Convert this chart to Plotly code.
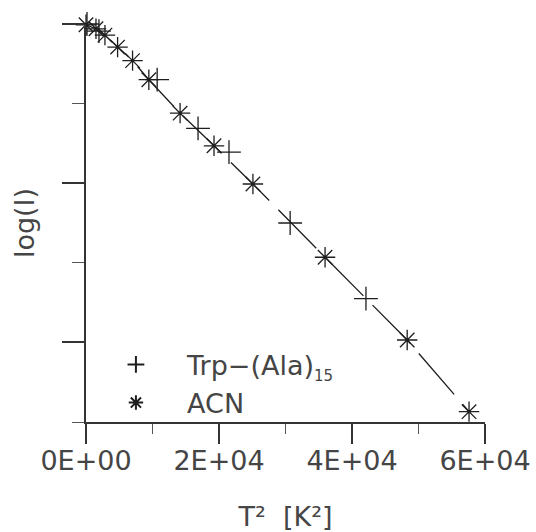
import plotly.graph_objects as go

# ---- data (T^2 in K^2, log(I) in arbitrary units) ----
acn_x = [0, 1500, 2850, 4750, 7000, 9450, 14150, 19250, 25100, 35950, 48300, 57600]
acn_y = [-0.01, -0.06, -0.14, -0.29, -0.46, -0.70, -1.12, -1.53, -2.01, -2.93, -3.97, -4.87]

trp_x = [150, 1950, 10700, 16850, 21500, 30700, 42100]
trp_y = [0.0, -0.09, -0.70, -1.31, -1.61, -2.50, -3.45]

x_tickvals = [0, 20000, 40000, 60000]
x_ticktext = ["0E+00", "2E+04", "4E+04", "6E+04"]

FONT = "DejaVu Sans"
TXT = "#454545"
INK = "#1e1e1e"
NB = "\u00a0"

fig = go.Figure()

# connecting line through the ACN points
fig.add_trace(go.Scatter(
    x=acn_x, y=acn_y, mode="lines", showlegend=False,
    line=dict(color=INK, width=1.3, dash="54px,13px"),
    hoverinfo="skip", cliponaxis=False,
))

fig.add_trace(go.Scatter(
    x=trp_x, y=trp_y, mode="markers",
    name=NB * 3 + "\u2009Trp\u2212(Ala)<sub><span style='font-size:15px'>15</span></sub>",
    marker=dict(symbol="cross-thin-open", size=17, color=INK, line=dict(color=INK, width=1.3)),
    cliponaxis=False,
))

fig.add_trace(go.Scatter(
    x=acn_x, y=acn_y, mode="markers", name=NB * 3 + "\u2009ACN",
    marker=dict(symbol="asterisk-open", size=17, color=INK, line=dict(color=INK, width=1.3)),
    cliponaxis=False,
))

fig.update_layout(
    width=536, height=532,
    margin=dict(l=86, r=51, t=24, b=110),
    paper_bgcolor="white", plot_bgcolor="white",
    font=dict(family=FONT, size=27, color=TXT),
    legend=dict(
        x=0.075, y=0.205, xanchor="left", yanchor="top",
        bgcolor="rgba(0,0,0,0)", font=dict(family=FONT, size=27, color=TXT),
        itemsizing="constant",
    ),
    xaxis=dict(
        range=[0, 60000], showgrid=False, zeroline=False, automargin=False,
        showline=True, linecolor="#333", linewidth=1.5,
        tickmode="array", tickvals=x_tickvals, ticktext=x_ticktext,
        ticks="outside", ticklen=20, tickwidth=1.5, tickcolor="#333",
        ticklabelstandoff=-6,
        minor=dict(dtick=10000, tick0=0, ticks="outside", ticklen=10,
                   tickwidth=1.2, tickcolor="#555"),
        tickfont=dict(family=FONT, size=27, color=TXT),
        title=dict(text="T\u00b2  [K\u00b2]", font=dict(family=FONT, size=27, color=TXT),
                   standoff=32),
    ),
    yaxis=dict(
        range=[-5, 0], showgrid=False, zeroline=False, automargin=False,
        showline=True, linecolor="#333", linewidth=1.5,
        tickmode="linear", tick0=0, dtick=2, showticklabels=False,
        ticks="outside", ticklen=22, tickwidth=1.5, tickcolor="#333",
        minor=dict(dtick=1, tick0=0, ticks="outside", ticklen=12,
                   tickwidth=1.2, tickcolor="#555"),
        title=dict(text="log(I)", font=dict(family=FONT, size=27, color=TXT),
                   standoff=20),
    ),
)

fig.write_html("out.html")
